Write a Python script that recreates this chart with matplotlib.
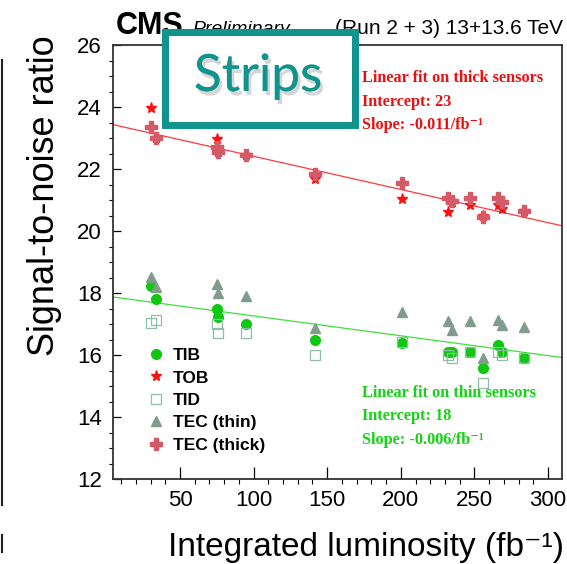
import numpy as np
import matplotlib
matplotlib.use("Agg")
import matplotlib.pyplot as plt
from matplotlib.patches import Rectangle
from matplotlib.lines import Line2D
import matplotlib.patheffects as pe

plt.rcParams['font.family'] = ['Liberation Sans', 'DejaVu Sans']

# integrated luminosity of each measurement (fb^-1)
lumi = [30, 34, 75, 76, 95, 142, 201, 232, 235, 247, 256, 266, 269, 284]

# signal-to-noise per partition
snr_tib = [18.23, 17.80, 17.50, 17.22, 17.00, 16.48, 16.40, 16.10, 16.10, 16.10, 15.59, 16.32, 16.10, 15.90]
snr_tob = [23.96, 22.99, 22.96, 22.56, 22.45, 21.67, 21.03, 20.62, 20.95, 20.84, 20.50, 20.84, 20.71, 20.65]
snr_tid = [17.02, 17.13, 17.00, 16.72, 16.72, 16.00, 16.42, 16.00, 15.90, 16.10, 15.09, 16.10, 16.00, 15.90]
snr_tec_thin = [18.51, 18.20, 18.29, 17.99, 17.90, 16.88, 17.40, 17.10, 16.80, 17.10, 15.90, 17.13, 16.97, 16.89]
snr_tec_thick = [23.36, 22.99, 22.70, 22.54, 22.45, 21.84, 21.56, 21.05, 20.98, 21.05, 20.46, 21.05, 20.95, 20.65]

# linear fits: (intercept, slope)
fit_thick = (23.48, -0.0107)
fit_thin = (17.90, -0.0064)

fig = plt.figure(figsize=(5.67, 5.64), dpi=100)
ax = fig.add_axes([113/567, 85/564, 449/567, 434/564])

ax.plot(lumi, snr_tib, 'o', color='#10c810', ms=7, mec='#10c810', label='TIB', zorder=3)
ax.plot(lumi, snr_tob, '*', color='#ff1010', ms=8, mec='#ff1010', label='TOB', zorder=3)
ax.plot(lumi, snr_tid, 's', mfc='none', mec='#8cbfa5', ms=7.5, mew=0.9, label='TID', zorder=3)
ax.plot(lumi, snr_tec_thin, '^', color='#7f9c8c', ms=7.5, mec='#7f9c8c', label='TEC (thin)', zorder=3)
ax.plot(lumi, snr_tec_thick, 'P', color='#d35a66', ms=8, mec='#d35a66', label='TEC (thick)', zorder=3)

ax.set_xlim(4.5, 309.5)
ax.set_ylim(12, 26)
xf = np.array(ax.get_xlim())
ax.plot(xf, fit_thick[0] + fit_thick[1] * xf, color='#ff3a3a', lw=0.9, zorder=2)
ax.plot(xf, fit_thin[0] + fit_thin[1] * xf, color='#3ee03e', lw=0.9, zorder=2)

ax.set_xticks(np.arange(50, 301, 50))
ax.set_xticks(np.arange(10, 310, 10), minor=True)
ax.set_yticks(np.arange(12, 27, 2))
ax.set_yticks(np.arange(12, 26.1, 0.5), minor=True)
ax.tick_params(direction='in', labelsize=16, pad=8)
ax.tick_params(axis='x', which='major', length=8.5, width=0.9)
ax.tick_params(axis='x', which='minor', length=3.6, width=0.8)
ax.tick_params(axis='y', which='major', length=6, width=0.9)
ax.tick_params(axis='y', which='minor', length=3, width=0.8)
for s in ax.spines.values():
    s.set_linewidth(1.3)
    s.set_color('#333333')

ax.set_ylabel('Signal-to-noise ratio', fontsize=26)
ax.yaxis.set_label_coords(-0.114, 0.652)
ax.set_xlabel('Integrated luminosity (fb⁻¹)', fontsize=24, ha='right')
ax.xaxis.set_label_coords(1.005, -0.122)

ax.legend(loc='upper left', bbox_to_anchor=(0.077, 0.302), frameon=False,
          prop={'weight': 'bold', 'size': 12.5}, numpoints=1, handlelength=1.0,
          handletextpad=0.45, labelspacing=0.42, borderpad=0, borderaxespad=0)

serif = ['Liberation Serif', 'DejaVu Serif']
red_lines = ['Linear fit on thick sensors',
             'Intercept: %.0f' % fit_thick[0],
             'Slope: %.3f/fb⁻¹' % fit_thick[1]]
green_lines = ['Linear fit on thin sensors',
               'Intercept: %.0f' % fit_thin[0],
               'Slope: %.3f/fb⁻¹' % fit_thin[1]]
for i, t in enumerate(red_lines):
    fig.text(362/567, 1 - (78 + 23.5*i)/564, t, color='#e81010', fontsize=11.7,
             fontweight='bold', family=serif, va='center')
for i, t in enumerate(green_lines):
    fig.text(362/567, 1 - (393 + 23.5*i)/564, t, color='#14d214', fontsize=11.7,
             fontweight='bold', family=serif, va='center')

# header
fig.text(116/567, 1 - 34/564, 'CMS', fontsize=22, fontweight='bold', va='baseline')
fig.text(192/567, 1 - 34/564, 'Preliminary', fontsize=14, style='italic', va='baseline')
fig.text(563/567, 1 - 34/564, '(Run 2 + 3) 13+13.6 TeV', fontsize=15, ha='right', va='baseline')

# label box
bw = 7
box = Rectangle(((161 + bw/2)/567, 1 - (128.3 - bw/2)/564),
                (358 - 161 - bw)/567, (128.3 - 28 - bw)/564,
                transform=fig.transFigure, facecolor='white', edgecolor='#12948e',
                lw=bw*0.72, zorder=10)
fig.add_artist(box)
fig.text(258/567, 1 - 77/564, 'Strips', fontsize=37, color='#12948e', family=['Lato', 'DejaVu Sans'],
         ha='center', va='center', zorder=11,
         path_effects=[pe.withSimplePatchShadow(offset=(2, -3), shadow_rgbFace='#888888', alpha=0.35),
                       pe.Normal()])

# edge of the neighbouring panel
fig.add_artist(Line2D([2/567, 2/567], [1 - 60/564, 1 - 505/564], transform=fig.transFigure,
                      color='#222222', lw=1.5))
fig.add_artist(Line2D([2/567, 2/567], [1 - 535/564, 1 - 552/564], transform=fig.transFigure,
                      color='#222222', lw=1.5))

fig.savefig('out.png', dpi=100)
